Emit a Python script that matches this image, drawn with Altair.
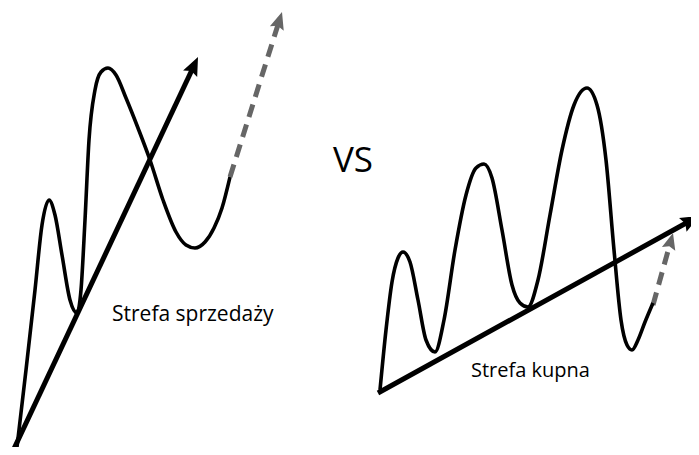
import altair as alt
import pandas as pd
import math

# Left diagram: wave (pixel-like coordinates of the drawing)
left_x = [17, 26, 35, 42, 49, 55, 62, 70, 77, 81, 85, 89, 95, 101, 108, 116, 126, 138, 150, 163, 176, 186, 195, 205, 214, 222, 230]
left_y = [447, 370, 290, 225, 200, 215, 255, 300, 313, 290, 220, 140, 90, 72, 68, 75, 98, 128, 160, 200, 232, 245, 248, 242, 228, 208, 177]

# Right diagram: wave
right_x = [380, 386, 392, 398, 403, 410, 418, 426, 435, 444, 455, 466, 476, 484, 492, 502, 512, 520, 528, 538, 550, 562, 574, 587, 597, 606, 614, 621, 627, 632, 638, 645, 653]
right_y = [390, 330, 282, 258, 252, 262, 300, 340, 352, 320, 250, 195, 168, 164, 178, 230, 285, 303, 307, 280, 215, 150, 105, 88, 105, 160, 250, 320, 345, 350, 340, 322, 303]

# Trend arrows: start, tip
arrow_name = ["left_trend", "left_dash", "right_trend", "right_dash"]
arrow_x1 = [12, 230, 378, 653]
arrow_y1 = [453, 177, 393, 305]
arrow_x2 = [198, 282, 699, 673]
arrow_y2 = [57, 12, 216, 233]
arrow_color = ["#000000", "#666666", "#000000", "#666666"]
arrow_dashed = [False, True, False, True]
arrow_head = [380, 330, 380, 300]

# Labels
label_text = ["VS", "Strefa sprzedaży", "Strefa kupna"]
label_x = [333, 112, 471]
label_y = [172, 321, 377]
label_size = [35, 21, 20]

W, H = 683, 439
xs = alt.Scale(domain=[8, 8 + W], range=[0, W], nice=False, zero=False)
ys = alt.Scale(domain=[8, 8 + H], range=[0, H], nice=False, zero=False)

waves = pd.DataFrame(
    {"x": left_x + right_x, "y": left_y + right_y,
     "wave": ["L"] * len(left_x) + ["R"] * len(right_x),
     "i": list(range(len(left_x))) + list(range(len(right_x)))}
)

rows = []
for n, x1, y1, x2, y2, c, d, hs in zip(arrow_name, arrow_x1, arrow_y1, arrow_x2, arrow_y2,
                                        arrow_color, arrow_dashed, arrow_head):
    dx, dy = x2 - x1, y2 - y1
    L = math.hypot(dx, dy)
    ang = math.degrees(math.atan2(dx, -dy))
    r = math.sqrt(hs) / 2
    rows.append({"name": n, "x1": x1, "y1": y1,
                 "x2": x2 - dx / L * (r * 1.5), "y2": y2 - dy / L * (r * 1.5),
                 "hx": x2 - dx / L * r, "hy": y2 - dy / L * r,
                 "angle": ang, "color": c, "dashed": d, "hs": hs})
arrows = pd.DataFrame(rows)

labels = pd.DataFrame({"t": label_text, "x": label_x, "y": label_y, "s": label_size})

noaxis = dict(axis=None)

wave_layer = alt.Chart(waves).mark_line(
    color="black", strokeWidth=3.6, interpolate="monotone"
).encode(
    x=alt.X("x:Q", scale=xs, **noaxis),
    y=alt.Y("y:Q", scale=ys, **noaxis),
    detail="wave:N",
    order="i:Q",
)

solid = alt.Chart(arrows[~arrows["dashed"]]).mark_rule(strokeWidth=5, color="black").encode(
    x=alt.X("x1:Q", scale=xs, **noaxis), y=alt.Y("y1:Q", scale=ys, **noaxis),
    x2="x2:Q", y2="y2:Q",
)
dashed = alt.Chart(arrows[arrows["dashed"]]).mark_rule(
    strokeWidth=5, color="#666666", strokeDash=[13, 8]
).encode(
    x=alt.X("x1:Q", scale=xs, **noaxis), y=alt.Y("y1:Q", scale=ys, **noaxis),
    x2="x2:Q", y2="y2:Q",
)
heads = alt.Chart(arrows).mark_point(
    shape="M0,-1L0.8,0.9L0,0.6L-0.8,0.9Z", filled=True, opacity=1
).encode(
    x=alt.X("hx:Q", scale=xs, **noaxis), y=alt.Y("hy:Q", scale=ys, **noaxis),
    angle=alt.Angle("angle:Q", scale=None),
    color=alt.Color("color:N", scale=None),
    size=alt.Size("hs:Q", scale=None),
)

text = alt.Chart(labels).mark_text(
    font="Open Sans", align="left", baseline="alphabetic", color="black"
).encode(
    x=alt.X("x:Q", scale=xs, **noaxis), y=alt.Y("y:Q", scale=ys, **noaxis),
    text="t:N", size=alt.Size("s:Q", scale=None),
)

chart = alt.layer(solid, dashed, wave_layer, heads, text).properties(
    width=W, height=H, padding=0, autosize=alt.AutoSizeParams(type="none"),
    background="white",
).configure_view(stroke=None)

chart.save("out.html", embed_options={"renderer": "svg", "actions": False})
